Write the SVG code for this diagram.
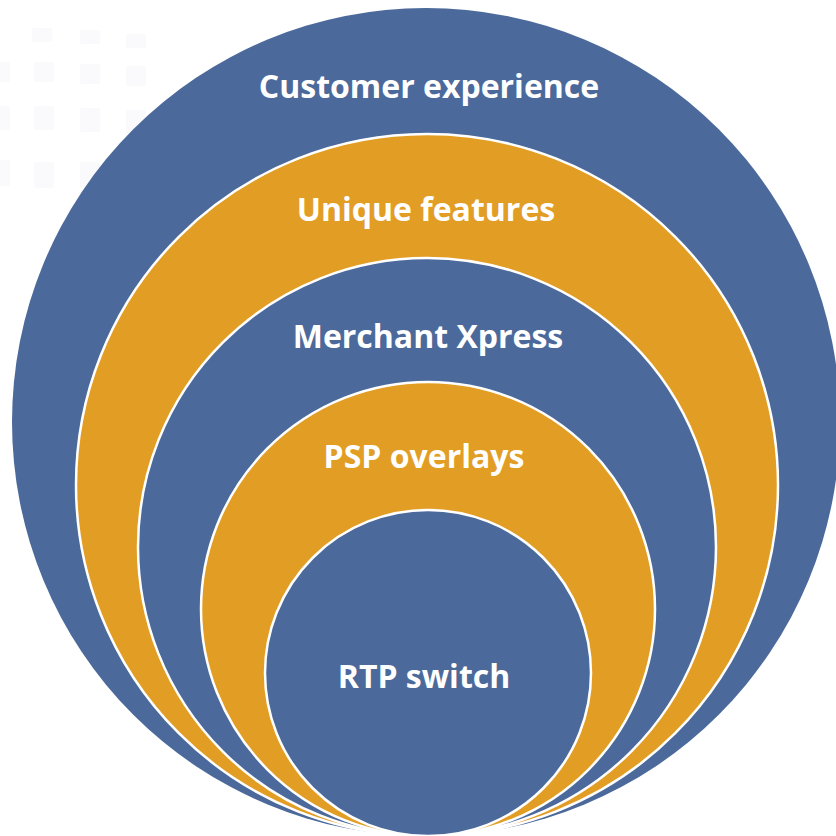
<svg xmlns="http://www.w3.org/2000/svg" width="836" height="836" viewBox="0 0 836 836">
<style>
.b{fill:#4b6a9b}
.o{fill:#e29d25}
.s{stroke:#ffffff;stroke-width:2.5}
.t{font-family:"Open Sans","Noto Sans","DejaVu Sans",sans-serif;font-weight:700;font-size:32px;fill:#ffffff;text-anchor:middle}
.bg{fill:#f3f5f9;opacity:0.45}
</style>
<g id="background">
<rect class="bg" x="32" y="28" width="20" height="14" rx="2"/>
<rect class="bg" x="80" y="30" width="20" height="14" rx="2"/>
<rect class="bg" x="126" y="34" width="20" height="14" rx="2"/>
<rect class="bg" x="0" y="62" width="10" height="20" rx="2"/>
<rect class="bg" x="34" y="62" width="20" height="20" rx="2"/>
<rect class="bg" x="80" y="64" width="20" height="20" rx="2"/>
<rect class="bg" x="126" y="66" width="20" height="20" rx="2"/>
<rect class="bg" x="0" y="106" width="10" height="24" rx="2"/>
<rect class="bg" x="34" y="106" width="20" height="24" rx="2"/>
<rect class="bg" x="80" y="108" width="20" height="24" rx="2"/>
<rect class="bg" x="126" y="110" width="20" height="24" rx="2"/>
<rect class="bg" x="0" y="160" width="10" height="26" rx="2"/>
<rect class="bg" x="34" y="162" width="20" height="26" rx="2"/>
<rect class="bg" x="80" y="162" width="20" height="26" rx="2"/>
</g>
<g id="customer-experience">
<circle class="b" cx="426" cy="422" r="414"/>
<text class="t" x="429" y="98">Customer experience</text>
</g>
<g id="unique-features">
<circle class="o s" cx="427" cy="485" r="351"/>
<text class="t" x="426" y="221">Unique features</text>
</g>
<g id="merchant-xpress">
<circle class="b s" cx="427" cy="547" r="289"/>
<text class="t" x="428" y="348">Merchant Xpress</text>
</g>
<g id="psp-overlays">
<circle class="o s" cx="428" cy="609" r="227"/>
<text class="t" x="424" y="468">PSP overlays</text>
</g>
<g id="rtp-switch">
<circle class="b s" cx="428" cy="673" r="163"/>
<text class="t" x="424" y="688">RTP switch</text>
</g>
<g id="connectors"/>
</svg>
